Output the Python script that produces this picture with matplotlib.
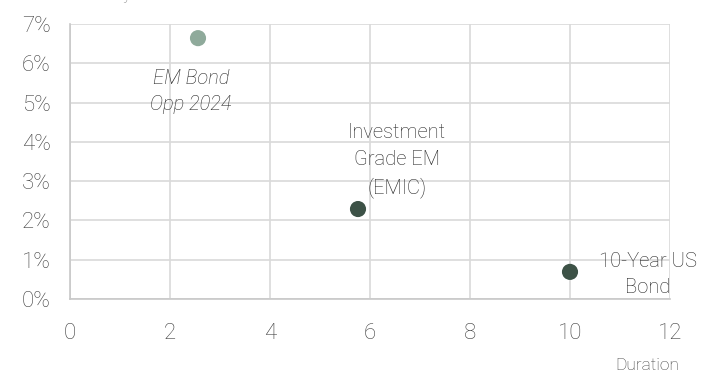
import matplotlib.pyplot as plt

plt.rcParams['font.family'] = ['Roboto', 'DejaVu Sans']

names = ['EM Bond\nOpp 2024', 'Investment\nGrade EM\n(EMIC)', '10-Year US\nBond']
duration = [2.56, 5.76, 10.0]
yields = [6.64, 2.29, 0.69]
colors = ['#8faa9b', '#3d5247', '#3d5247']

fig = plt.figure(figsize=(7.03, 3.73), dpi=100)
ax = fig.add_axes([70/703, 1-299/373, 600/703, 275/373])

ax.scatter(duration, yields, s=135, c=colors, zorder=3, linewidths=0)

# labels next to the points
lab_kw = dict(textcoords='offset points', ha='center', fontsize=14.5, color='#262626',
              fontweight='light', linespacing=1.5)
ax.annotate(names[0], (duration[0], yields[0]), xytext=(-5, -22), va='top',
            style='italic', **lab_kw)
ax.annotate(names[1], (duration[1], yields[1]), xytext=(28, 8), va='bottom', **lab_kw)
ax.annotate(names[2], (duration[2], yields[2]), xytext=(56, -2), va='center',
            multialignment='center', **lab_kw)

ax.set_xlim(0, 12)
ax.set_ylim(0, 7)
ax.set_xticks(range(0, 13, 2))
ax.set_yticks(range(0, 8))
ax.set_yticklabels([f'{v}%' for v in range(0, 8)])
ax.tick_params(length=0, labelsize=16, colors='#404040')
ax.tick_params(axis='x', pad=17)
ax.tick_params(axis='y', pad=14)
for lab in ax.get_xticklabels() + ax.get_yticklabels():
    lab.set_fontweight('light')
ax.grid(True, color='#d9d9d9', linewidth=1.2)
ax.set_axisbelow(True)
for s in ['top', 'right']:
    ax.spines[s].set_visible(False)
for s in ['left', 'bottom']:
    ax.spines[s].set_color('#c8c8c8')
    ax.spines[s].set_linewidth(1.2)

fig.text(647/703, 1-365/373, 'Duration', ha='center', va='center', fontsize=12.5,
         color='#404040', fontweight='light')
fig.text(15/703, 1-3/373, 'Yield to Maturity', ha='left', va='bottom', fontsize=12,
         color='#808080', fontweight='light')

fig.savefig('out.png', dpi=100)
